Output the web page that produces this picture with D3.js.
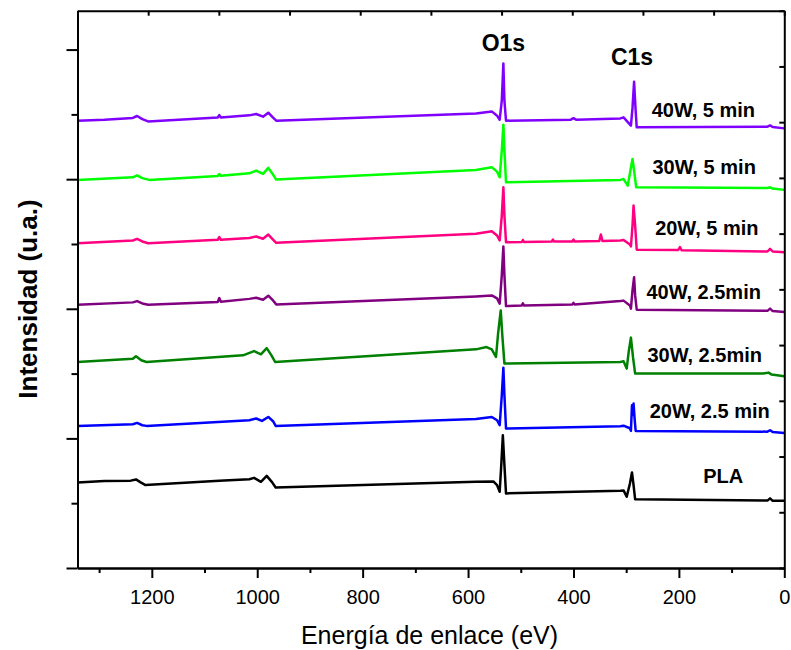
<!DOCTYPE html>
<html>
<head>
<meta charset="utf-8">
<script src="https://cdn.jsdelivr.net/npm/d3@7"></script>
<style>
  body { margin: 0; background: #fff; }
  text { font-family: "Liberation Sans", Arial, sans-serif; }
</style>
</head>
<body>
<div id="chart"></div>
<script>
// tick values of the energy axis (eV)
const energyTicks = [1200, 1000, 800, 600, 400, 200, 0];
const energyMinorTicks = [1300, 1100, 900, 700, 500, 300, 100];

// spectra, [binding energy eV, stacked intensity a.u.]
const pla = [[1341,1.320],[1290,1.341],[1240,1.348],[1230,1.367],[1222,1.325],[1212,1.279],[1072,1.345],[1015,1.370],[1006,1.391],[993,1.330],[982,1.422],[972,1.325],[965,1.243],[585,1.330],[552,1.336],[545,1.279],[540,1.176],[537,1.587],[534,2.049],[531,1.587],[528,1.151],[311,1.191],[305,1.197],[299,1.099],[293,1.300],[289,1.475],[286,1.279],[283,1.059],[32,1.040],[27,1.074],[22,1.037],[0,1.037]];
const w20t25 = [[1341,2.193],[1236,2.219],[1228,2.239],[1218,2.203],[1210,2.193],[1015,2.280],[1002,2.307],[991,2.270],[979,2.331],[970,2.265],[965,2.193],[585,2.300],[555,2.331],[545,2.280],[540,2.203],[536,2.666],[533,3.092],[531,2.666],[528,2.153],[311,2.188],[305,2.196],[293,2.157],[291,2.116],[289,2.512],[288,2.357],[286,2.538],[284,2.300],[282,2.116],[32,2.104],[27,2.126],[22,2.098],[0,2.085]];
const w30t25 = [[1341,3.179],[1236,3.228],[1230,3.267],[1220,3.205],[1210,3.179],[1027,3.282],[1006,3.348],[993,3.297],[982,3.394],[973,3.282],[966,3.179],[585,3.374],[565,3.410],[555,3.374],[547,3.256],[543,3.620],[538,3.975],[535,3.590],[531,3.154],[311,3.179],[305,3.190],[299,3.077],[295,3.350],[291,3.555],[287,3.250],[283,3.000],[40,3.000],[30,3.015],[24,2.985],[0,2.958]];
const w40t25 = [[1341,4.063],[1236,4.099],[1228,4.119],[1218,4.083],[1207,4.063],[1075,4.106],[1072,4.165],[1069,4.109],[1015,4.153],[1002,4.171],[989,4.140],[979,4.202],[970,4.129],[964,4.068],[585,4.191],[555,4.206],[545,4.160],[540,4.079],[536,4.515],[533,4.961],[531,4.515],[528,4.042],[498,4.052],[496,4.083],[494,4.052],[402,4.068],[400,4.091],[398,4.068],[311,4.119],[305,4.126],[293,4.052],[291,4.002],[288,4.284],[285,4.488],[283,4.206],[280,3.986],[32,3.968],[27,4.002],[22,3.965],[0,3.949]];
const w20t5 = [[1341,5.012],[1236,5.054],[1228,5.080],[1218,5.039],[1207,5.012],[1075,5.065],[1072,5.105],[1069,5.065],[1015,5.092],[1002,5.116],[989,5.080],[979,5.146],[970,5.069],[964,5.018],[585,5.157],[555,5.197],[545,5.131],[540,5.054],[536,5.439],[533,5.875],[531,5.439],[528,5.028],[498,5.031],[496,5.062],[494,5.031],[441,5.039],[439,5.069],[437,5.039],[402,5.039],[400,5.069],[398,5.039],[351,5.046],[348,5.146],[345,5.046],[311,5.054],[305,5.062],[293,4.992],[291,4.961],[288,5.285],[286,5.593],[283,5.285],[280,4.911],[201,4.908],[198,4.951],[195,4.905],[32,4.884],[27,4.926],[22,4.884],[0,4.874]];
const w30t5 = [[1341,5.989],[1236,6.029],[1228,6.060],[1218,6.017],[1205,5.989],[1075,6.051],[1072,6.079],[1069,6.052],[1015,6.091],[1002,6.133],[989,6.082],[979,6.174],[970,6.071],[964,5.994],[585,6.143],[555,6.183],[545,6.117],[540,6.029],[536,6.441],[533,6.841],[531,6.441],[528,5.952],[311,5.989],[305,6.002],[297,5.901],[292,6.133],[288,6.313],[285,6.133],[281,5.875],[32,5.863],[27,5.875],[22,5.855],[0,5.835]];
const w40t5 = [[1341,6.903],[1290,6.918],[1236,6.945],[1228,6.975],[1218,6.926],[1207,6.892],[1075,6.951],[1072,6.988],[1069,6.952],[1015,6.985],[1002,7.006],[989,6.965],[979,7.026],[970,6.949],[964,6.903],[585,7.015],[555,7.046],[545,6.980],[540,6.918],[536,7.211],[533,7.786],[531,7.211],[528,6.903],[405,6.918],[400,6.941],[395,6.918],[311,6.938],[305,6.954],[291,6.826],[288,7.100],[285,7.504],[282,7.050],[280,6.800],[32,6.810],[27,6.830],[22,6.805],[0,6.784]];

const seriesData = [pla, w20t25, w30t25, w40t25, w20t5, w30t5, w40t5];
const seriesNames = ["PLA", "20W, 2.5 min", "30W, 2.5min", "40W, 2.5min", "20W, 5 min", "30W, 5 min", "40W, 5 min"];
const seriesColors = ["#000000", "#0000ff", "#008000", "#800080", "#ff0080", "#00ff00", "#8000ff"];
// where the sample names sit, [eV, a.u.]
const nameAnchors = [[116,1.305],[141.5,2.307],[151,3.179],[153,4.155],[147,5.131],[152,6.08],[153.6,6.965]];

const peakNames = ["O1s", "C1s"];
const peakAnchors = [[533, 7.971], [289, 7.761]];

const margin = { top: 10.7, right: 6.7, bottom: 82, left: 77.5 },
      width = 791 - margin.left - margin.right,
      height = 650 - margin.top - margin.bottom;

const svg = d3.select("#chart")
    .append("svg")
    .attr("width", 791)
    .attr("height", 650)
    .append("g")
    .attr("transform", `translate(${margin.left},${margin.top})`);

const x = d3.scaleLinear().domain([1341, 0]).range([0, width]);
const y = d3.scaleLinear().domain([0, 8.6]).range([height, 0]);

// opposite axes just split the frame into 10 parts
const xTop = d3.scaleLinear().domain([0, 10]).range([0, width]);
const yRight = d3.scaleLinear().domain([0, 10]).range([height, 0]);

const line = d3.line()
    .x(d => x(d[0]))
    .y(d => y(d[1]));

svg.selectAll(".spectrum")
    .data(seriesData)
    .enter()
    .append("path")
    .attr("class", "spectrum")
    .attr("d", d => line(d))
    .style("fill", "none")
    .style("stroke", (d, i) => seriesColors[i])
    .style("stroke-width", 2.5)
    .style("stroke-linejoin", "round");

// sample names
svg.selectAll(".name")
    .data(seriesNames)
    .enter()
    .append("text")
    .attr("class", "name")
    .attr("x", (d, i) => x(nameAnchors[i][0]))
    .attr("y", (d, i) => y(nameAnchors[i][1]))
    .attr("text-anchor", "middle")
    .style("font-size", "20px")
    .style("font-weight", "bold")
    .text(d => d);

// peak names
svg.selectAll(".peak")
    .data(peakNames)
    .enter()
    .append("text")
    .attr("class", "peak")
    .attr("x", (d, i) => x(peakAnchors[i][0]))
    .attr("y", (d, i) => y(peakAnchors[i][1]))
    .attr("text-anchor", "middle")
    .style("font-size", "23px")
    .style("font-weight", "bold")
    .text(d => d);

function styleAxis(g) {
    g.selectAll("path").style("stroke-width", 2);
    g.selectAll("line").style("stroke-width", 2);
}

// bottom axis
svg.append("g")
    .attr("transform", `translate(0,${height})`)
    .call(d3.axisBottom(x).tickValues(energyMinorTicks).tickSize(5).tickSizeOuter(0).tickFormat(""))
    .call(styleAxis);

svg.append("g")
    .attr("transform", `translate(0,${height})`)
    .call(d3.axisBottom(x).tickValues(energyTicks).tickSize(10).tickSizeOuter(0).tickPadding(12).tickFormat(d3.format("d")))
    .call(styleAxis)
    .selectAll("text")
    .style("font-size", "20px")
    .style("fill", "#000");

// left axis
svg.append("g")
    .call(d3.axisLeft(y).tickValues([1, 3, 5, 7]).tickSize(6).tickSizeOuter(0).tickFormat(""))
    .call(styleAxis);

svg.append("g")
    .call(d3.axisLeft(y).tickValues([0, 2, 4, 6, 8]).tickSize(11).tickSizeOuter(0).tickFormat(""))
    .call(styleAxis);

// top and right axes, ticks inside
svg.append("g")
    .call(d3.axisBottom(xTop).ticks(10).tickSize(5).tickSizeOuter(0).tickFormat(""))
    .call(styleAxis);

svg.append("g")
    .attr("transform", `translate(${width},0)`)
    .call(d3.axisLeft(yRight).ticks(10).tickSize(5).tickSizeOuter(0).tickFormat(""))
    .call(styleAxis);

// axis titles
svg.append("text")
    .attr("x", 429.5 - margin.left)
    .attr("y", 644 - margin.top)
    .attr("text-anchor", "middle")
    .style("font-size", "25px")
    .text("Energía de enlace (eV)");

svg.append("text")
    .attr("transform", `translate(${37 - margin.left},${299 - margin.top}) rotate(-90)`)
    .attr("text-anchor", "middle")
    .style("font-size", "26px")
    .style("font-weight", "bold")
    .text("Intensidad (u.a.)");
</script>
</body>
</html>
